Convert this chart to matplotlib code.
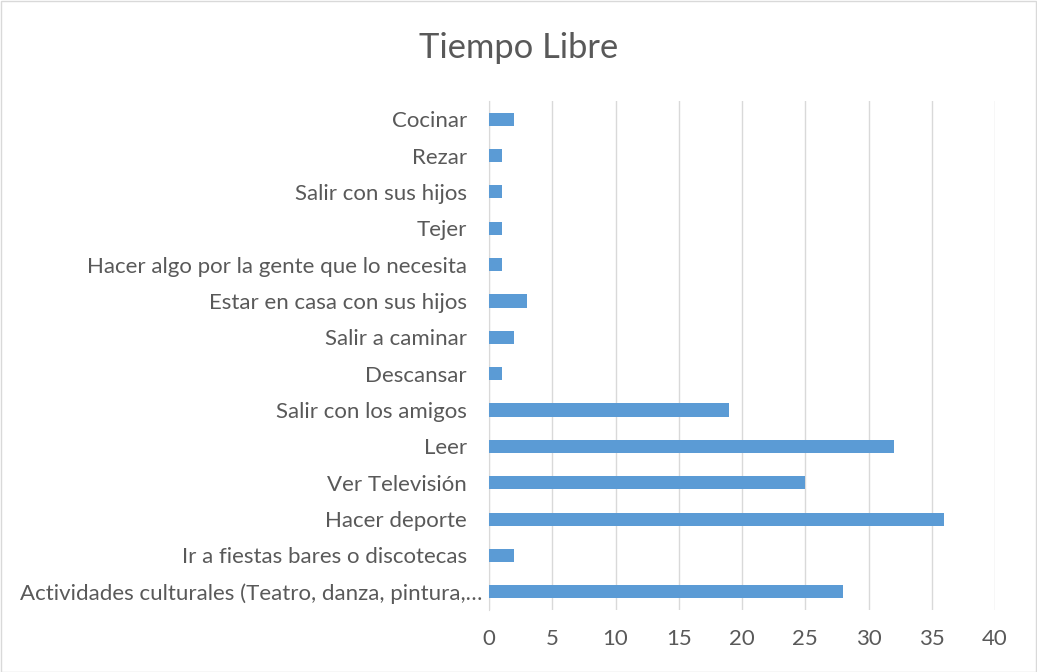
import matplotlib
matplotlib.use("Agg")
import matplotlib.pyplot as plt
from matplotlib.patches import Rectangle
import matplotlib.transforms as mtrans

categories = [
    "Actividades culturales (Teatro, danza, pintura,…",
    "Ir a fiestas bares o discotecas",
    "Hacer deporte",
    "Ver Televisión",
    "Leer",
    "Salir con los amigos",
    "Descansar",
    "Salir a caminar",
    "Estar en casa con sus hijos",
    "Hacer algo por la gente que lo necesita",
    "Tejer",
    "Salir con sus hijos",
    "Rezar",
    "Cocinar",
]
values = [28, 2, 36, 25, 32, 19, 1, 2, 3, 1, 1, 1, 1, 2]
xticks = [0, 5, 10, 15, 20, 25, 30, 35, 40]

W, H = 1037, 672
fig = plt.figure(figsize=(W / 100, H / 100), dpi=100)
fig.patches.append(Rectangle((0.5 / W, 0.5 / H), 1 - 1.5 / W, 1 - 1.5 / H,
                             transform=fig.transFigure, fill=False,
                             edgecolor="#D9D9D9", linewidth=1))

left, right, top, bottom = 489, 995, 101, 610
ax = fig.add_axes([left / W, 1 - bottom / H, (right - left) / W, (bottom - top) / H])

font = "Lato"
txt = "#595959"
fs = 16
ypos = list(range(len(categories)))
ax.barh(ypos, values, height=0.36, color="#5B9BD5", zorder=3)
ax.set_xlim(0, 40)
ax.set_ylim(-0.5, len(categories) - 0.5)
ax.set_xticks(xticks)
ax.set_xticklabels([str(t) for t in xticks], fontsize=fs, color=txt, family=font)
ax.set_yticks(ypos)
ax.set_yticklabels(categories, fontsize=fs, color=txt, family=font)
ax.tick_params(axis="x", length=0, pad=14)
ax.tick_params(axis="y", length=0, pad=16)
ax.xaxis.grid(True, color="#D9D9D9", linewidth=1, zorder=0)
for s in ["top", "right", "bottom"]:
    ax.spines[s].set_visible(False)
ax.spines["left"].set_color("#D9D9D9")

# truncated label extends further right (as in the source)
lbl = ax.get_yticklabels()[0]
lbl.set_transform(lbl.get_transform() + mtrans.ScaledTranslation(16 / 100, 0, fig.dpi_scale_trans))

fig.text(0.5, 1 - 48 / H, "Tiempo Libre", ha="center", va="center",
         fontsize=24.8, color=txt, family=font)

fig.savefig("out.png", dpi=100)
